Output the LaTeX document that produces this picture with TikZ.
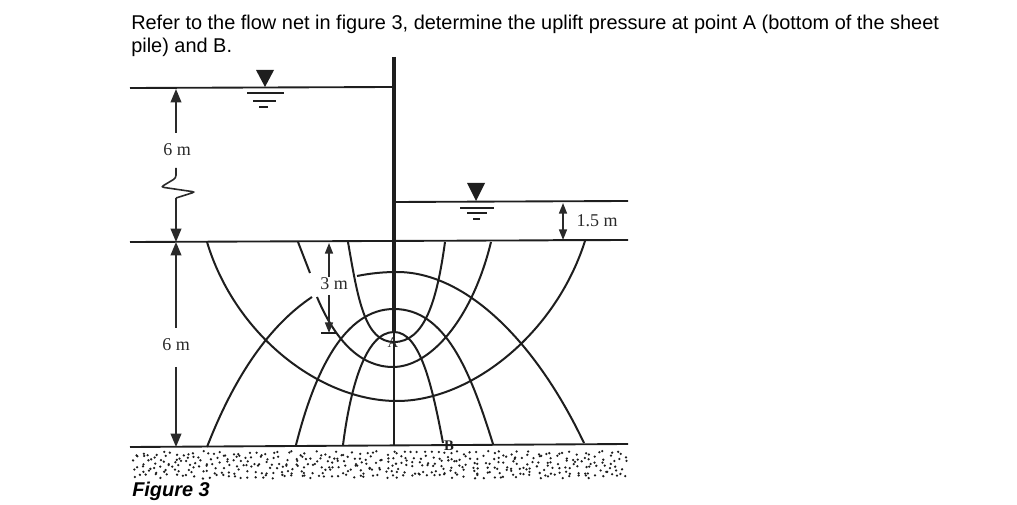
\documentclass[tikz,border=0pt]{standalone}
\usepackage{fontspec}
\usepackage{xcolor}
\setmainfont{Liberation Serif}
\newfontfamily\arialfont{Liberation Sans}
\usepackage{tikz}
\usetikzlibrary{calc,positioning,arrows.meta}
\definecolor{inkcol}{HTML}{1E1E1E}
\definecolor{dimcol}{HTML}{2A2A2A}
\tikzset{
  flowline/.style={line width=1.5pt, inkcol},
  ground/.style={line width=1.4pt, inkcol},
  dimarrow/.style={line width=1.2pt, dimcol, -{Triangle[width=8pt,length=10pt]}},
  dimsmall/.style={line width=1.2pt, dimcol, {Triangle[width=6pt,length=8pt]}-{Triangle[width=6pt,length=8pt]}},
  dimlabel/.style={font=\fontsize{13.5}{15}\selectfont, text=dimcol, inner sep=0pt},
  plainline/.style={line width=1.6pt, inkcol},
  bodytext/.style={font=\arialfont\fontsize{14.95}{15}\selectfont, anchor=base west, inner sep=0pt, text=black},
}
\begin{document}
\begin{tikzpicture}[x=0.75pt,y=-0.75pt]
    \useasboundingbox (0,0) rectangle (1017,505);

    % Question text
    \node [bodytext] (line1) at (131,30) {Refer to the flow net in figure 3, determine the uplift pressure at point A (bottom of the sheet};
    \node [bodytext] (line2) at (131,52.7) {pile) and B.};

    % Sand below the impervious layer
    \pgfmathsetseed{317}
    \foreach \row in {0,...,5} {
        \foreach \col in {0,...,74} {
            \pgfmathsetmacro{\dotx}{132+\col*6.6+rnd*6.6}
            \pgfmathsetmacro{\doty}{451+\row*4.6+rnd*4.6}
            \fill [inkcol] (\dotx,\doty) circle (0.95pt);
        }
    }

    % Water and ground levels
    \draw [ground] (130,88) -- (394,87);
    \draw [ground] (394,202) -- (628,201);
    \draw [ground] (130,242) -- (628,240);
    \draw [ground] (130,447) -- (628,444);
    \draw [line width=3pt, inkcol] (394,57) -- (394,333);
    \draw [line width=1.1pt, inkcol] (394,333) -- (394,446);

    % Water level marks
    \fill [inkcol] (256,70) -- (274,70) -- (265,87) -- cycle;
    \draw [plainline] (247,93) -- (284,93);
    \draw [plainline] (253,101) -- (276,101);
    \draw [plainline] (259,107) -- (268,107);
    \fill [inkcol] (467,183) -- (485,183) -- (476,201) -- cycle;
    \draw [plainline] (460,208) -- (494,208);
    \draw [plainline] (467,213) -- (487,213);
    \draw [plainline] (473,219) -- (480,219);

    % Equipotential lines
    \draw [flowline] (207,242) .. controls (235,335) and (320,401) .. (397,401) .. controls (470,401) and (555,335) .. (585,241);
    \draw [flowline] (298,242) -- (310,273);
    \draw [flowline] (317,297) .. controls (335,340) and (360,367) .. (393,367) .. controls (430,367) and (472,320) .. (491,242);
    \draw [flowline] (348,242) .. controls (358,300) and (365,342) .. (394,342) .. controls (425,342) and (437,300) .. (445,242);

    % Flow lines
    \draw [flowline] (207,447) .. controls (235,375) and (270,325) .. (312,297);
    \draw [flowline] (357,276) .. controls (372,273) and (385,272) .. (397,272) .. controls (465,272) and (535,340) .. (584,443);
    \draw [flowline] (296,445) .. controls (315,370) and (345,309) .. (394,309) .. controls (445,309) and (470,370) .. (493,444);
    \draw [flowline] (343,445) .. controls (350,390) and (365,332) .. (394,332) .. controls (420,332) and (432,385) .. (443,443);

    % Dimensions
    \coordinate (topl) at (176,89);
    \coordinate (topm) at (176,133);
    \coordinate (wava) at (176,168);
    \coordinate (wavb) at (176,198);
    \coordinate (gndl) at (176,242);
    \coordinate (lowm) at (176,328);
    \coordinate (lown) at (176,367);
    \coordinate (botl) at (176,447);
    \coordinate (thrt) at (329,243);
    \coordinate (thrm) at (329,277);
    \coordinate (thrn) at (329,295);
    \coordinate (thrb) at (329,333);
    \coordinate (onet) at (563,203);
    \coordinate (oneb) at (563,240);

    \draw [dimarrow] (topm) -- (topl);
    \draw [dimarrow] (wavb) -- (gndl);
    \draw [line width=1.2pt, dimcol, rounded corners=2pt] (wava) -- (176,178) -- (161,187) -- (195,192) -- (wavb);
    \draw [dimarrow] (lowm) -- (gndl);
    \draw [dimarrow] (lown) -- (botl);
    \draw [line width=1.2pt, dimcol, -{Triangle[width=6pt,length=8pt]}] (thrm) -- (thrt);
    \draw [line width=1.2pt, dimcol, -{Triangle[width=6pt,length=8pt]}] (thrn) -- (thrb);
    \draw [dimsmall] (oneb) -- (onet);
    \draw [plainline] (321,333) -- (337,333);
    \draw [plainline] (553,240) -- (585,240);

    % Labels
    \node [dimlabel] (sixtop) at (177,150) {6 m};
    \node [dimlabel] (sixlow) at (176,345) {6 m};
    \node [dimlabel] (three) at (334,284) {3 m};
    \node [dimlabel] (onefive) at (597,221) {1.5 m};
    \node [font=\fontsize{11}{11}\selectfont, text=dimcol, inner sep=0pt] (ptA) at (393,343) {A};
    \node [font=\bfseries\fontsize{11}{11}\selectfont, text=inkcol, inner sep=0pt] (ptB) at (449,446) {B};
    \node [font=\arialfont\bfseries\itshape\fontsize{14.95}{15}\selectfont, anchor=base west, inner sep=0pt, text=black] (caption) at (132,497) {Figure 3};
\end{tikzpicture}
\end{document}
